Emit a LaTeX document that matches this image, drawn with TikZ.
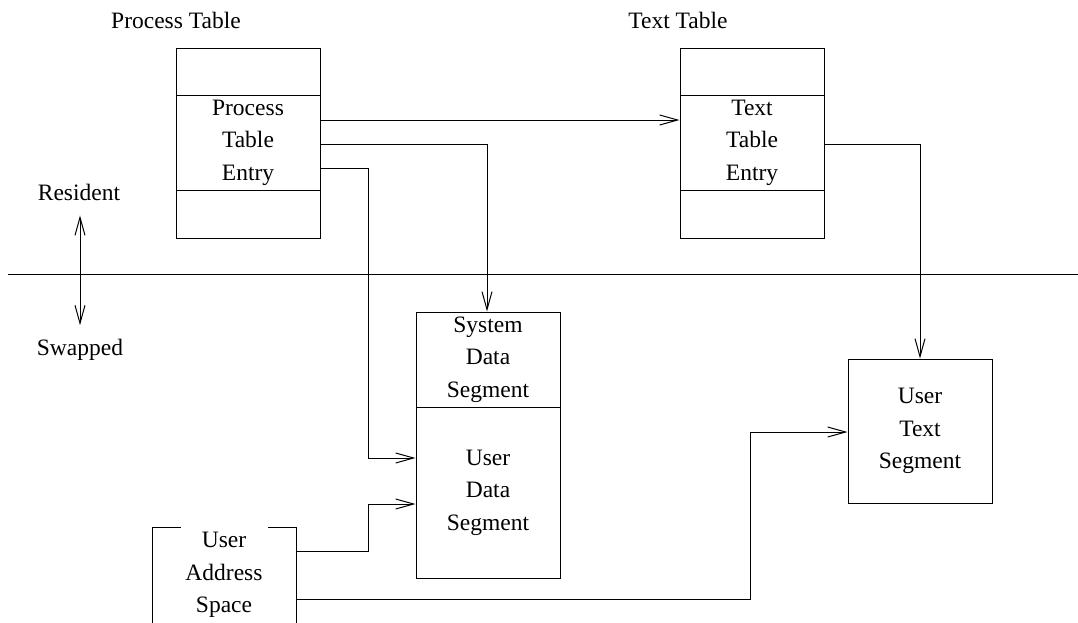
\documentclass[tikz,border=0pt]{standalone}
\usepackage{fontspec}
\setmainfont{Liberation Serif}
\usetikzlibrary{arrows.meta}
\begin{document}
\begin{tikzpicture}[x=1pt,y=-1pt,
  every node/.style={font=\fontsize{23.5}{32.5}\selectfont, align=center, inner sep=0pt},
  cell/.style={draw, line width=1pt, minimum width=144pt},
  conn/.style={line width=1pt, -{Straight Barb[length=18pt,width=10pt]}},
  rule/.style={line width=1pt}]
\useasboundingbox (0,0) rectangle (1078,622);
% titles
\node (ptt) at (176,20) {Process Table};
\node (ttt) at (678,20) {Text Table};
% process table
\node[cell, minimum height=47pt] (pttop) at (248,71.5) {};
\node[cell, minimum height=95pt] (ptentry) at (248,142.5) {Process\\Table\\Entry};
\node[cell, minimum height=48pt] (ptbot) at (248,214) {};
% text table
\node[cell, minimum height=47pt] (tttop) at (752,71.5) {};
\node[cell, minimum height=95pt] (ttentry) at (752,142.5) {Text\\Table\\Entry};
\node[cell, minimum height=48pt] (ttbot) at (752,214) {};
% divider
\coordinate (dl) at (8,274);
\coordinate (dr) at (1078,274);
\draw[rule] (dl) -- (dr);
% resident / swapped
\node (res) at (79,192) {Resident};
\node (swp) at (80,350) {Swapped};
\draw[line width=1pt, {Straight Barb[length=18pt,width=10pt]}-{Straight Barb[length=18pt,width=10pt]}]
  ([xshift=1pt,yshift=-15pt]res.south) -- ([yshift=14pt]swp.north);
% data segments
\node[cell, minimum height=95pt] (sds) at (488,359.5) {System\\Data\\Segment};
\node[cell, minimum height=171pt] (uds) at (488,492.5) {User\\Data\\Segment};
% user text segment
\node[cell, minimum height=144pt] (uts) at (920,431) {User\\Text\\Segment};
% user address space
\node[minimum width=144pt, minimum height=96pt] (uas) at (224,575) {User\\Address\\Space};
\draw[rule] (152,623) -- (152,527) -- (181,527);
\draw[rule] (268,527) -- (296,527) -- (296,623);
% connectors
\draw[conn] ([yshift=22.5pt]ptentry.east) -- ([yshift=22.5pt]ttentry.west);
\draw[conn] ([yshift=-1.5pt]ptentry.east) -| ([xshift=-1pt]sds.north);
\draw[conn] ([yshift=-25.5pt]ptentry.east) -- ++(48,0) |- ([yshift=34.5pt]uds.west);
\draw[conn] ([yshift=-1.5pt]ttentry.east) -| (uts.north);
\draw[conn] ([yshift=24pt]uas.east) -- ++(72,0) |- ([yshift=-11.5pt]uds.west);
\draw[conn] ([yshift=-24pt]uas.east) -- ++(454,0) |- ([yshift=-1pt]uts.west);
\end{tikzpicture}
\end{document}
